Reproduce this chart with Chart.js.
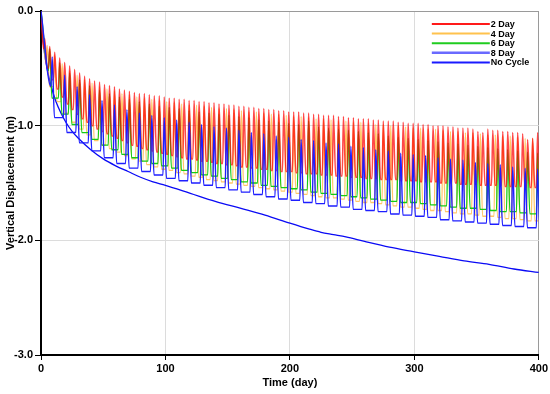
<!DOCTYPE html>
<html>
<head>
<meta charset="utf-8">
<script src="https://cdn.jsdelivr.net/npm/chart.js@4"></script>
<style>
  body { margin: 0; background: #fff; }
</style>
</head>
<body>
<canvas id="myChart" width="550" height="394"></canvas>
<script>
// series names and load days of each cycle (unload is 2 days)
const seriesNames = ["2 Day", "4 Day", "6 Day", "8 Day", "No Cycle"];
const loadDays = [2, 4, 6, 8];

// peak / bottom displacement of every cycle (m)
const peaks2 = [-0.24, -0.31, -0.36, -0.41, -0.45, -0.48, -0.51, -0.54, -0.57, -0.59,
  -0.61, -0.62, -0.64, -0.65, -0.66, -0.68, -0.69, -0.70, -0.71, -0.72,
  -0.72, -0.73, -0.74, -0.74, -0.75, -0.76, -0.76, -0.77, -0.77, -0.78,
  -0.78, -0.79, -0.79, -0.80, -0.80, -0.81, -0.81, -0.82, -0.82, -0.83,
  -0.83, -0.84, -0.84, -0.85, -0.85, -0.86, -0.86, -0.87, -0.87, -0.88,
  -0.88, -0.88, -0.89, -0.89, -0.90, -0.90, -0.91, -0.91, -0.91, -0.92,
  -0.92, -0.93, -0.93, -0.94, -0.94, -0.94, -0.95, -0.95, -0.96, -0.96,
  -0.96, -0.97, -0.97, -0.98, -0.98, -0.98, -0.99, -0.99, -1.00, -1.00,
  -1.00, -1.01, -1.01, -1.02, -1.02, -1.02, -1.03, -1.05, -1.06, -1.03,
  -1.04, -1.04, -1.05, -1.05, -1.06, -1.06, -1.07, -1.12, -1.11, -1.06];
const bottoms2 = [-0.33, -0.50, -0.60, -0.68, -0.75, -0.81, -0.86, -0.90, -0.94, -0.97,
  -1.00, -1.03, -1.05, -1.07, -1.09, -1.11, -1.13, -1.15, -1.17, -1.18,
  -1.20, -1.21, -1.22, -1.23, -1.24, -1.25, -1.26, -1.27, -1.28, -1.29,
  -1.29, -1.30, -1.31, -1.31, -1.32, -1.33, -1.33, -1.34, -1.34, -1.35,
  -1.36, -1.36, -1.37, -1.37, -1.38, -1.38, -1.39, -1.39, -1.40, -1.40,
  -1.40, -1.41, -1.41, -1.42, -1.42, -1.42, -1.43, -1.43, -1.43, -1.44,
  -1.44, -1.44, -1.45, -1.45, -1.45, -1.46, -1.46, -1.46, -1.47, -1.47,
  -1.47, -1.47, -1.48, -1.48, -1.48, -1.48, -1.49, -1.49, -1.49, -1.49,
  -1.50, -1.50, -1.50, -1.50, -1.51, -1.51, -1.51, -1.51, -1.52, -1.52,
  -1.52, -1.52, -1.52, -1.53, -1.53, -1.53, -1.53, -1.54, -1.54, -1.54, -1.54];

const peaks4 = [-0.30, -0.39, -0.46, -0.52, -0.56, -0.60, -0.63, -0.66, -0.68, -0.70,
  -0.72, -0.73, -0.75, -0.76, -0.77, -0.78, -0.79, -0.80, -0.81, -0.82,
  -0.82, -0.83, -0.84, -0.85, -0.85, -0.86, -0.87, -0.88, -0.88, -0.89,
  -0.90, -0.90, -0.91, -0.92, -0.92, -0.93, -0.94, -0.94, -0.95, -0.96,
  -0.96, -0.97, -0.97, -0.98, -0.99, -0.99, -1.00, -1.00, -1.01, -1.02,
  -1.02, -1.03, -1.03, -1.04, -1.05, -1.05, -1.06, -1.06, -1.07, -1.08,
  -1.08, -1.09, -1.09, -1.10, -1.11, -1.11, -1.12];
const bottoms4 = [-0.45, -0.66, -0.79, -0.89, -0.97, -1.03, -1.08, -1.13, -1.17, -1.20,
  -1.23, -1.26, -1.29, -1.31, -1.34, -1.36, -1.38, -1.39, -1.41, -1.42,
  -1.44, -1.45, -1.47, -1.48, -1.49, -1.50, -1.51, -1.52, -1.53, -1.54,
  -1.55, -1.56, -1.57, -1.58, -1.59, -1.60, -1.61, -1.62, -1.63, -1.63,
  -1.64, -1.65, -1.66, -1.67, -1.67, -1.68, -1.69, -1.70, -1.71, -1.71,
  -1.72, -1.73, -1.74, -1.74, -1.75, -1.76, -1.77, -1.77, -1.78, -1.79,
  -1.79, -1.80, -1.81, -1.81, -1.82, -1.83, -1.83];

const peaks6 = [-0.33, -0.45, -0.54, -0.60, -0.65, -0.69, -0.72, -0.75, -0.77, -0.79,
  -0.81, -0.83, -0.84, -0.85, -0.87, -0.88, -0.89, -0.90, -0.91, -0.92,
  -0.93, -0.95, -0.96, -0.97, -0.98, -0.99, -0.96, -1.01, -1.02, -1.03,
  -1.04, -1.05, -1.06, -1.07, -1.09, -1.10, -1.11, -1.12, -1.13, -1.14,
  -1.15, -1.16, -1.17, -1.18, -1.19, -1.20, -1.21, -1.22, -1.23, -1.24];
const bottoms6 = [-0.52, -0.76, -0.90, -0.99, -1.06, -1.12, -1.17, -1.21, -1.25, -1.28,
  -1.31, -1.33, -1.35, -1.37, -1.39, -1.41, -1.43, -1.44, -1.46, -1.47,
  -1.49, -1.50, -1.52, -1.53, -1.54, -1.55, -1.56, -1.58, -1.59, -1.60,
  -1.61, -1.62, -1.63, -1.64, -1.65, -1.66, -1.67, -1.67, -1.68, -1.69,
  -1.70, -1.71, -1.72, -1.72, -1.73, -1.74, -1.75, -1.75, -1.76, -1.77, -1.77];

const peaks8 = [-0.40, -0.56, -0.66, -0.73, -0.78, -0.82, -0.86, -0.89, -0.91, -0.93,
  -0.95, -0.97, -0.99, -1.01, -1.02, -1.04, -1.06, -1.07, -1.09, -1.10,
  -1.12, -1.13, -1.15, -1.16, -1.18, -1.19, -1.21, -1.22, -1.24, -1.25,
  -1.26, -1.28, -1.29, -1.30, -1.32, -1.33, -1.34, -1.36, -1.37, -1.38];
const bottoms8 = [-0.66, -0.93, -1.06, -1.15, -1.22, -1.28, -1.33, -1.37, -1.40, -1.43,
  -1.46, -1.48, -1.50, -1.52, -1.54, -1.56, -1.58, -1.60, -1.62, -1.64,
  -1.65, -1.67, -1.68, -1.70, -1.71, -1.73, -1.74, -1.75, -1.77, -1.78,
  -1.79, -1.80, -1.82, -1.83, -1.84, -1.85, -1.86, -1.87, -1.88, -1.89, -1.90];

// no cycle curve
const noCycleDays = [0, 1, 2, 3, 5, 8, 12, 16, 20, 25, 30, 40, 50, 60, 70, 80, 90, 100,
  120, 140, 160, 180, 200, 215, 225, 235, 245, 260, 280, 300, 320, 340, 360, 380, 400];
const noCycleValues = [0, -0.17, -0.29, -0.38, -0.51, -0.65, -0.79, -0.89, -0.97, -1.05,
  -1.11, -1.21, -1.29, -1.35, -1.40, -1.45, -1.49, -1.52, -1.59, -1.66, -1.72, -1.78,
  -1.85, -1.90, -1.93, -1.95, -1.97, -2.01, -2.06, -2.10, -2.14, -2.18, -2.21, -2.25, -2.28];

const xTicks = [0, 100, 200, 300, 400];
const yTicks = [0, -1, -2, -3];

const colors = ["rgba(255,0,0,0.72)", "rgba(255,175,40,0.7)", "#14cc14", "#1e1eff", "#0a0af5"];
const legendColors = ["#ff1a1a", "#ffc24d", "#1fcc1f", "#6a6aff", "#1a1aff"];
// drawing order: lower number is drawn on top
const drawOrder = [1, 3, 2, 0, 4];

function cyclePoints(peaks, bottoms, load) {
  let period = load + 2;
  let pts = [{ x: 0, y: 0 }];
  for (let i = 0; i < bottoms.length; i++) {
    let s = i * period;
    if (i > 0) pts.push({ x: s + 0.8, y: bottoms[i] });
    pts.push({ x: s + load, y: bottoms[i] });
    if (i < peaks.length) pts.push({ x: s + load + 1, y: peaks[i] });
  }
  return pts;
}

let allData = [
  cyclePoints(peaks2, bottoms2, loadDays[0]),
  cyclePoints(peaks4, bottoms4, loadDays[1]),
  cyclePoints(peaks6, bottoms6, loadDays[2]),
  cyclePoints(peaks8, bottoms8, loadDays[3]),
  noCycleDays.map((d, i) => ({ x: d, y: noCycleValues[i] })),
];

let datasets = seriesNames.map((name, i) => ({
  label: name,
  data: allData[i],
  order: drawOrder[i],
  borderColor: colors[i],
  borderWidth: i == 0 ? 1.5 : i == 3 ? 1.4 : 1.3,
  pointRadius: 0,
  cubicInterpolationMode: "monotone",
  fill: false,
}));

const fontFam = "'Liberation Sans', Arial, sans-serif";

// legend drawn inside the plot, top right
const lineLegend = {
  id: "lineLegend",
  afterDraw(chart) {
    let ctx = chart.ctx;
    let area = chart.chartArea;
    let x1 = area.right - 107;
    let x2 = area.right - 49;
    ctx.save();
    ctx.font = "bold 9px " + fontFam;
    ctx.textBaseline = "middle";
    ctx.fillStyle = "#000";
    seriesNames.forEach((name, i) => {
      let y = area.top + 13 + i * 9.6;
      ctx.strokeStyle = legendColors[i];
      ctx.lineWidth = i == 3 ? 2.5 : 2;
      ctx.beginPath();
      ctx.moveTo(x1, y);
      ctx.lineTo(x2, y);
      ctx.stroke();
      ctx.fillText(name, x2 + 1, y + 0.5);
    });
    ctx.restore();
  },
};

var ctx = document.getElementById("myChart");
var lineChart = new Chart(ctx, {
  type: "line",
  data: { datasets: datasets },
  plugins: [lineLegend],
  options: {
    responsive: false,
    animation: false,
    layout: { padding: { top: 11, right: 10, left: 0, bottom: 0 } },
    plugins: { legend: { display: false }, tooltip: { enabled: false } },
    scales: {
      x: {
        type: "linear",
        min: 0,
        max: 400,
        afterBuildTicks: (s) => { s.ticks = xTicks.map((v) => ({ value: v })); },
        afterFit: (s) => { s.height = 39; },
        border: { color: "#000", width: 2 },
        grid: {
          color: (c) => (c.tick.value == 400 ? "#9a9a9a" : c.tick.value == 0 ? "rgba(0,0,0,0)" : "#dcdcdc"),
          tickColor: "#000",
          tickLength: 5,
          lineWidth: 1,
        },
        ticks: { color: "#000", padding: 2, font: { family: fontFam, size: 11, weight: "bold" } },
        title: {
          display: true,
          text: "Time (day)",
          color: "#000",
          padding: { top: 0, bottom: 4 },
          font: { family: fontFam, size: 11, weight: "bold" },
        },
      },
      y: {
        min: -3,
        max: 0,
        afterBuildTicks: (s) => { s.ticks = yTicks.map((v) => ({ value: v })); },
        afterFit: (s) => { s.width = 41; },
        border: { color: "#000", width: 2 },
        grid: {
          color: (c) => (c.tick.value == 0 ? "#9a9a9a" : c.tick.value == -3 ? "rgba(0,0,0,0)" : "#dcdcdc"),
          tickColor: "#000",
          tickLength: 6,
          lineWidth: 1,
        },
        ticks: {
          color: "#000",
          padding: 2,
          font: { family: fontFam, size: 11, weight: "bold" },
          callback: (v) => v.toFixed(1),
        },
        title: {
          display: true,
          text: "Vertical Displacement (m)",
          color: "#000",
          padding: { top: 4, bottom: 0 },
          font: { family: fontFam, size: 11, weight: "bold" },
        },
      },
    },
  },
});
</script>
</body>
</html>
